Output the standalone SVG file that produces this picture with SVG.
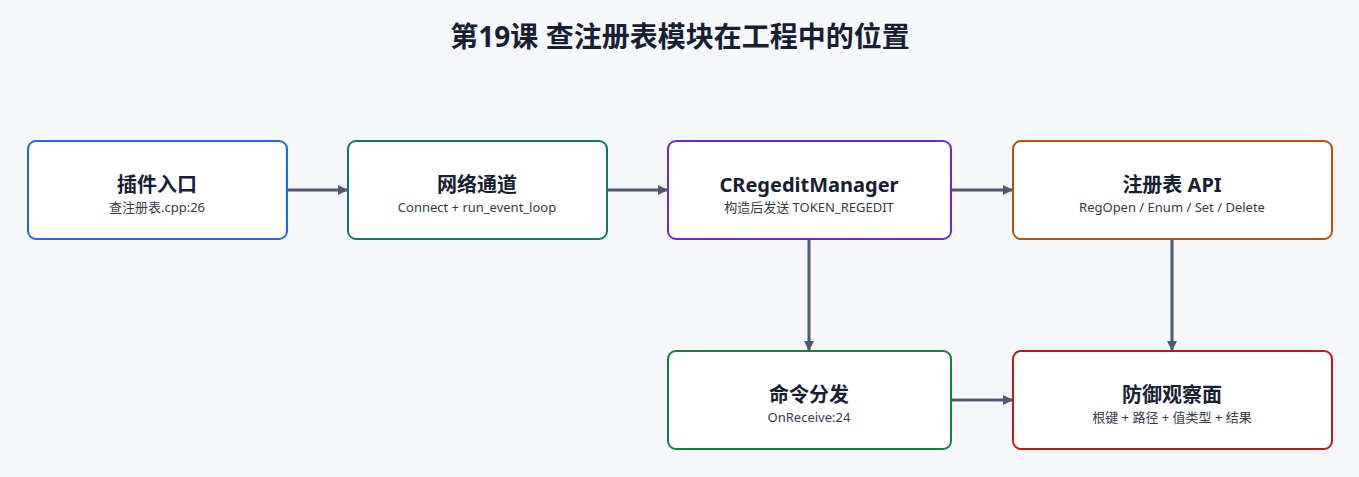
<svg xmlns="http://www.w3.org/2000/svg" width="1359" height="477" viewBox="0 0 1359 477">
<style>
.box{fill:#fff;stroke-width:2}
.t{font-family:"Noto Sans","Noto Sans CJK SC",sans-serif;font-weight:bold;font-size:20px;fill:#172033;text-anchor:middle}
.s{font-family:"Noto Sans","Noto Sans CJK SC",sans-serif;font-size:13px;fill:#333b48;text-anchor:middle}
.c{stroke:#4f5b70;stroke-width:3;fill:none;marker-end:url(#a)}
</style>
<defs><marker id="a" markerWidth="10" markerHeight="10" refX="9" refY="5" orient="auto" markerUnits="userSpaceOnUse"><path d="M0,0 L10,5 L0,10 z" fill="#4f5b70"/></marker></defs>
<rect width="1359" height="477" fill="#f5f7fb"/>
<text x="680" y="47" class="t" style="font-size:28px">第19课 查注册表模块在工程中的位置</text>
<g id="connectors">
<line class="c" x1="287" y1="190" x2="347" y2="190"/>
<line class="c" x1="607" y1="190" x2="667" y2="190"/>
<line class="c" x1="951" y1="190" x2="1012" y2="190"/>
<line class="c" x1="809" y1="239" x2="809" y2="350"/>
<line class="c" x1="1172" y1="239" x2="1172" y2="350"/>
<line class="c" x1="951" y1="400" x2="1012" y2="400"/>
</g>
<g id="n1"><rect class="box" x="28" y="141" width="259" height="98" rx="8" stroke="#2563eb"/><text class="t" x="157" y="192">插件入口</text><text class="s" x="157" y="212">查注册表.cpp:26</text></g>
<g id="n2"><rect class="box" x="348" y="141" width="259" height="98" rx="8" stroke="#0f766e"/><text class="t" x="477" y="192">网络通道</text><text class="s" x="477" y="212">Connect + run_event_loop</text></g>
<g id="n3"><rect class="box" x="668" y="141" width="283" height="98" rx="8" stroke="#6d28d9"/><text class="t" x="809" y="192">CRegeditManager</text><text class="s" x="809" y="212">构造后发送 TOKEN_REGEDIT</text></g>
<g id="n4"><rect class="box" x="1013" y="141" width="319" height="98" rx="8" stroke="#b45309"/><text class="t" x="1172" y="192">注册表 API</text><text class="s" x="1172" y="212">RegOpen / Enum / Set / Delete</text></g>
<g id="n5"><rect class="box" x="668" y="351" width="283" height="98" rx="8" stroke="#15803d"/><text class="t" x="809" y="402">命令分发</text><text class="s" x="809" y="422">OnReceive:24</text></g>
<g id="n6"><rect class="box" x="1013" y="351" width="319" height="98" rx="8" stroke="#b91c1c"/><text class="t" x="1172" y="402">防御观察面</text><text class="s" x="1172" y="422">根键 + 路径 + 值类型 + 结果</text></g>
</svg>
